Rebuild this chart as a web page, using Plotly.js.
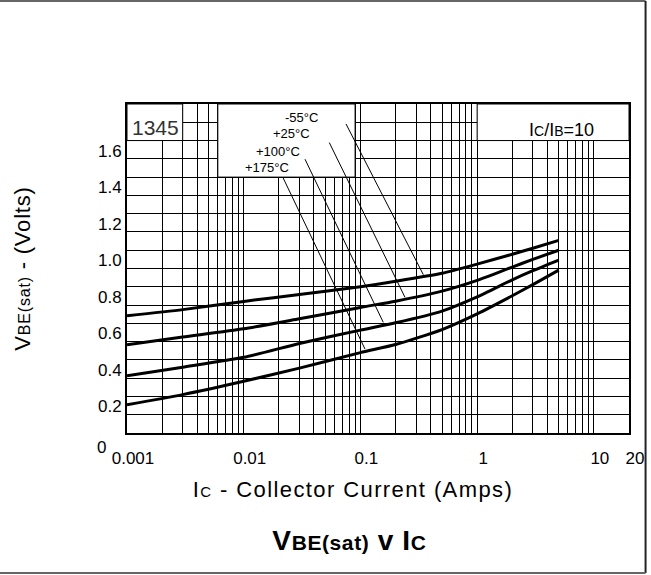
<!DOCTYPE html>
<html>
<head>
<meta charset="utf-8">
<script src="https://cdn.plot.ly/plotly-3.0.1.min.js"></script>
<style>
html,body{margin:0;padding:0;background:#fff;}
#chart{width:651px;height:575px;}
.xtitle{letter-spacing:1.4px;transform:translateX(-25px);}
.ytitle{letter-spacing:0.8px;}
.gtitle{letter-spacing:0.6px;}
</style>
</head>
<body>
<div id="chart"></div>
<script>
// Collector current (A) sample points
const currentA   = [0.001, 0.003, 0.01, 0.03, 0.1, 0.2, 0.5, 1, 2, 3, 5];
// VBE(sat) in volts for each temperature
const vbeMinus55 = [0.641, 0.675, 0.720, 0.758, 0.800, 0.830, 0.874, 0.924, 0.978, 1.011, 1.054];
const vbePlus25  = [0.483, 0.525, 0.570, 0.625, 0.687, 0.721, 0.776, 0.835, 0.908, 0.950, 1.000];
const vbePlus100 = [0.313, 0.360, 0.414, 0.490, 0.563, 0.603, 0.667, 0.745, 0.838, 0.888, 0.946];
const vbePlus175 = [0.155, 0.210, 0.283, 0.355, 0.440, 0.484, 0.566, 0.652, 0.751, 0.812, 0.891];
const seriesNames = ['-55°C', '+25°C', '+100°C', '+175°C'];

// Leader lines from temperature labels to curves
const leaderFromI = [0.0752, 0.0541, 0.0335, 0.0216];
const leaderFromV = [1.691, 1.589, 1.498, 1.400];
const leaderToI   = [0.346, 0.241, 0.157, 0.1095];
const leaderToV   = [0.866, 0.742, 0.605, 0.459];
const labelI      = [0.0313, 0.0257, 0.0197, 0.0158];
const labelV      = [1.726, 1.640, 1.540, 1.452];

// Axis ticks / grid
const xTickVals = [0.001,0.002,0.003,0.004,0.005,0.006,0.007,0.008,0.009,
                   0.01,0.02,0.03,0.04,0.05,0.06,0.07,0.08,0.09,
                   0.1,0.2,0.3,0.4,0.5,0.6,0.7,0.8,0.9,
                   1,2,3,4,5,6,7,8,9,
                   10,20];
const xLabeled  = {0.001:'0.001', 0.01:'0.01', 0.1:'0.1', 1:'1', 10:'10', 20:'20'};
const yTickVals = [0,0.1,0.2,0.3,0.4,0.5,0.6,0.7,0.8,0.9,1.0,1.1,1.2,1.3,1.4,1.5,1.6,1.7,1.8];
const yTickText = ['','','0.2','','0.4','','0.6','','0.8','','1.0','','1.2','','1.4','','1.6','',''];
const yZeroLabel = '0';   // drawn left-aligned below the axis, as in the original

// Blank boxes in the grid (data coords: [I0, I1, V0, V1])
const boxId    = [0.001, 0.003, 1.6, 1.8];
const boxLegend= [0.006, 0.09, 1.4, 1.8];
const boxRatio = [1, 20, 1.6, 1.8];

const xTickText = xTickVals.map(v => xLabeled[v] || '');

const series = [vbeMinus55, vbePlus25, vbePlus100, vbePlus175];
const traces = [];
series.forEach((ys, i) => {
  traces.push({
    x: currentA, y: ys, type: 'scatter', mode: 'lines', name: seriesNames[i],
    line: {color: '#000', width: 3, shape: 'spline', smoothing: 0.6},
    hoverinfo: 'skip'
  });
});
for (let i = 0; i < 4; i++) {
  traces.push({
    x: [leaderFromI[i], leaderToI[i]], y: [leaderFromV[i], leaderToV[i]],
    type: 'scatter', mode: 'lines', showlegend: false,
    line: {color: '#000', width: 1}, hoverinfo: 'skip'
  });
}

const font = 'Liberation Sans, Arial, Helvetica, sans-serif';
const annotations = seriesNames.map((t, i) => ({
  x: Math.log10(labelI[i]), y: labelV[i], xref: 'x', yref: 'y',
  text: t, showarrow: false, font: {family: font, size: 13, color: '#000'},
  xanchor: 'center', yanchor: 'middle'
}));
annotations.push({
  x: Math.log10(0.00174), y: 1.669, xref: 'x', yref: 'y', text: '1345',
  showarrow: false, font: {family: font, size: 21, color: '#333'},
  xanchor: 'center', yanchor: 'middle'
});
annotations.push({
  x: Math.log10(5.3), y: 1.658, xref: 'x', yref: 'y',
  text: 'I<span style="font-size:14px">C</span>/I<span style="font-size:14px">B</span>=10',
  showarrow: false, font: {family: font, size: 18, color: '#000'},
  xanchor: 'center', yanchor: 'middle'
});
annotations.push({
  x: -0.064, y: 0, xref: 'paper', yref: 'y', text: yZeroLabel,
  showarrow: false, font: {family: font, size: 17, color: '#000'},
  xanchor: 'left', yanchor: 'middle', yshift: -14
});

function box(b) {
  return {type: 'rect', xref: 'x', yref: 'y', x0: b[0], x1: b[1], y0: b[2], y1: b[3],
          fillcolor: '#fff', line: {color: '#000', width: 1}, layer: 'between'};
}
const shapes = [box(boxId), box(boxLegend), box(boxRatio),
  {type:'line', xref:'paper', yref:'paper', x0:-0.26, x1:1.033, y0:1.313, y1:1.313, line:{color:'#666', width:2}},
  {type:'line', xref:'paper', yref:'paper', x0:1.033, x1:1.033, y0:1.313, y1:-0.4255, line:{color:'#222', width:2}},
  {type:'line', xref:'paper', yref:'paper', x0:-0.26, x1:1.033, y0:-0.4255, y1:-0.4255, line:{color:'#666', width:2}}
];

const layout = {
  width: 651, height: 575,
  margin: {l: 127, r: 22, t: 104, b: 142, pad: 0},
  paper_bgcolor: '#fff', plot_bgcolor: '#fff',
  showlegend: false,
  font: {family: font, color: '#000'},
  title: {
    text: 'V<span style="font-size:21px">BE(sat)</span> v I<span style="font-size:21px">C</span>',
    font: {family: font, size: 28, weight: 700, color: '#000'},
    xref: 'paper', x: 0.443, xanchor: 'center',
    yref: 'container', y: 0.061, yanchor: 'middle'
  },
  xaxis: {
    type: 'log', range: [-3, Math.log10(20)],
    tickmode: 'array', tickvals: xTickVals, ticktext: xTickText,
    showgrid: true, gridcolor: '#000', gridwidth: 1,
    showline: true, linecolor: '#000', linewidth: 2, mirror: true,
    ticks: '', zeroline: false, ticklabelshift: 6, ticklabelstandoff: 9,
    tickfont: {family: font, size: 17, color: '#000'},
    title: {
      text: 'I<span style="font-size:15px">C</span> - Collector Current (Amps)',
      font: {family: font, size: 22, color: '#000'}, standoff: 14
    }
  },
  yaxis: {
    range: [0, 1.8],
    tickmode: 'array', tickvals: yTickVals, ticktext: yTickText,
    showgrid: true, gridcolor: '#000', gridwidth: 1,
    showline: true, linecolor: '#000', linewidth: 2, mirror: true,
    ticks: '', zeroline: false, ticklabelshift: 10,
    tickfont: {family: font, size: 17, color: '#000'},
    title: {
      text: 'V<span style="font-size:16px">BE(sat)</span> - (Volts)',
      font: {family: font, size: 22, color: '#000'}, standoff: 61
    }
  },
  shapes: shapes,
  annotations: annotations
};

Plotly.newPlot('chart', traces, layout, {staticPlot: true, displayModeBar: false});
</script>
</body>
</html>
